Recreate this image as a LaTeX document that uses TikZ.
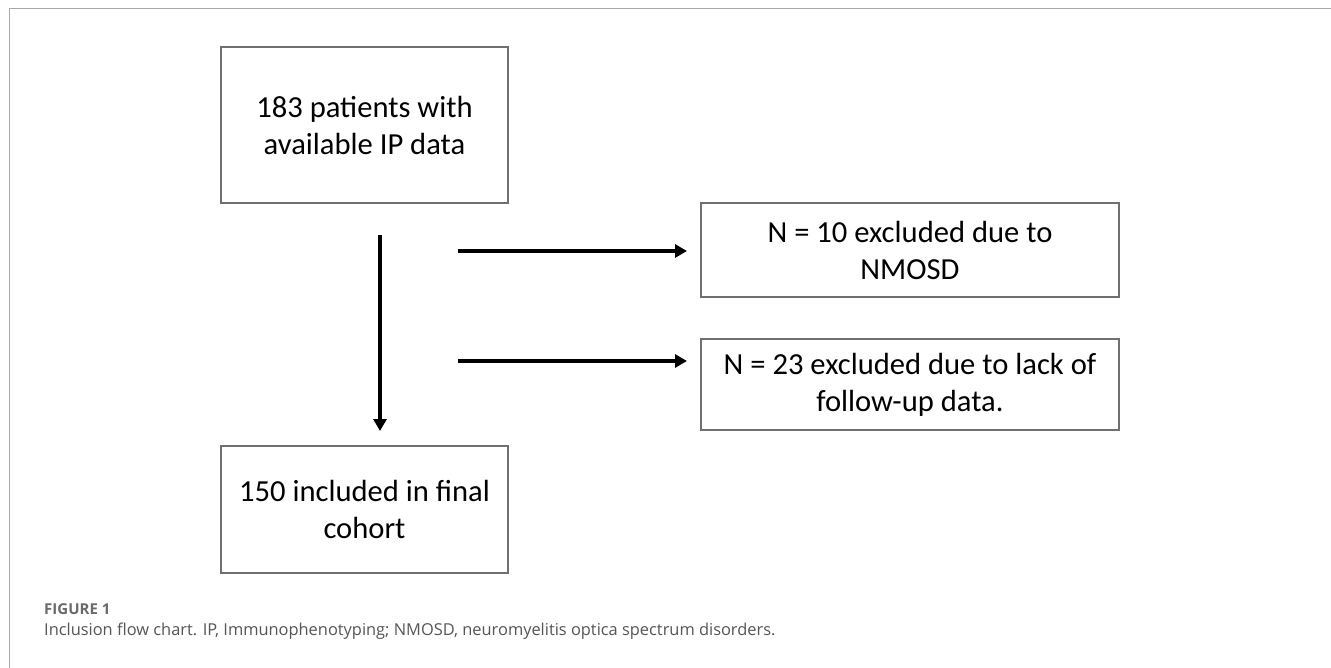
\documentclass[tikz,border=0pt]{standalone}
\usepackage{fontspec}
\setmainfont{Carlito}
\newfontfamily\capfont{Open Sans}
\usetikzlibrary{arrows.meta}
\definecolor{boxgray}{HTML}{707070}
\definecolor{framegray}{HTML}{AAAAAA}
\definecolor{capgray}{HTML}{555555}
\definecolor{figgray}{HTML}{6A6A6A}
\begin{document}
\begin{tikzpicture}[x=1pt,y=-1pt,
  box/.style={draw=boxgray, line width=1.5pt, align=center, inner sep=0pt,
    font=\fontsize{30.6}{37}\selectfont},
  arr/.style={line width=4pt, -{Triangle[length=12pt,width=13pt]}},
  captext/.style={anchor=base west, inner sep=0pt}]
\useasboundingbox (0,0) rectangle (1331,668);
\fill[white] (0,0) rectangle (1331,668);
\draw[framegray, line width=1.5pt] (9.5,668) -- (9.5,8.5) -- (1331,8.5);
\node[box, minimum width=287pt, minimum height=156pt] (a) at (364.5,125) {183 patients with\\available IP data};
\node[box, minimum width=287pt, minimum height=127pt] (c) at (364.5,509.5) {150 included in final\\cohort};
\node[box, minimum width=418pt, minimum height=94pt] (b1) at (910,250) {N = 10 excluded due to\\NMOSD};
\node[box, minimum width=418pt, minimum height=91pt] (b2) at (910,384.5) {N = 23 excluded due to lack of\\follow-up data.};
\coordinate (v1) at (380,235);
\coordinate (v2) at (380,431);
\coordinate (h1) at (458,251);
\coordinate (h1e) at (687,251);
\coordinate (h2) at (458,361);
\coordinate (h2e) at (687,361);
\draw[arr] (v1) -- (v2);
\draw[arr] (h1) -- (h1e);
\draw[arr] (h2) -- (h2e);
\node[captext, text=figgray, font=\capfont\bfseries\fontsize{15}{17}\selectfont] (fig) at (44,614) {FIGURE 1};
\node[captext, text=capgray, font=\capfont\fontsize{16.4}{20}\selectfont] (caption) at (44,635) {Inclusion flow chart. IP, Immunophenotyping; NMOSD, neuromyelitis optica spectrum disorders.};
\end{tikzpicture}
\end{document}
